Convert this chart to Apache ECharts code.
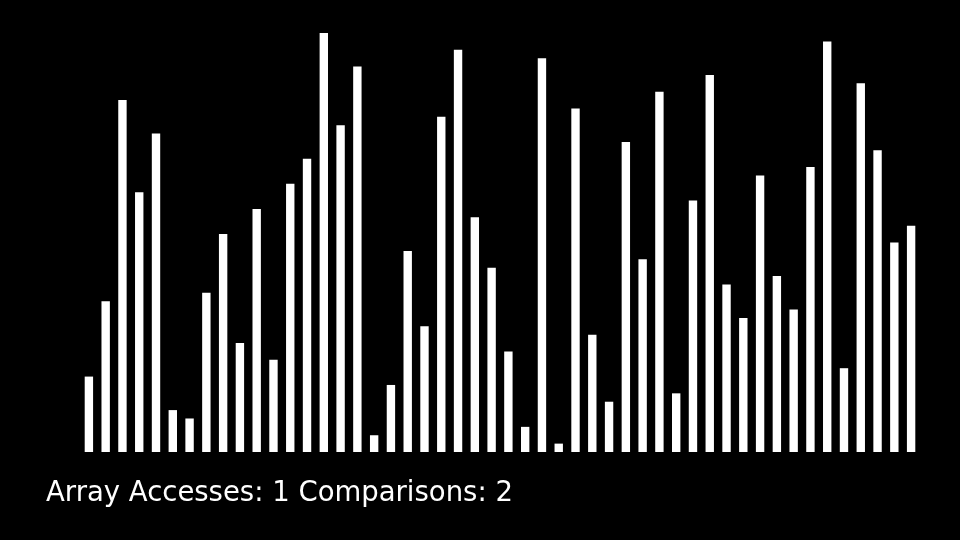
<!DOCTYPE html>
<html>
<head>
<meta charset="utf-8">
<script src="https://cdn.jsdelivr.net/npm/echarts@6/dist/echarts.min.js"></script>
<style>html,body{margin:0;padding:0;background:#000;}#c{width:960px;height:540px;}</style>
</head>
<body>
<div id="c"></div>
<script>
const values = [9,18,42,31,38,5,4,19,26,13,29,11,32,35,50,39,46,2,8,24,15,40,48,28,22,12,3,47,1,41,14,6,37,23,43,7,30,45,20,16,33,21,17,34,49,10,44,36,25,27];
const categories = values.map((_, i) => String(i));
const arrayAccesses = 1;
const comparisons = 2;

const chart = echarts.init(document.getElementById('c'));
chart.setOption({
  backgroundColor: '#000',
  animation: false,
  grid: { left: 80.5, right: 40.5, top: 33, bottom: 88 },
  xAxis: { type: 'category', data: categories, show: false },
  yAxis: { type: 'value', min: 0, max: 50, show: false },
  series: [{
    type: 'bar',
    data: values,
    barWidth: '50%',
    itemStyle: { color: '#fff' }
  }],
  graphic: [{
    type: 'text',
    left: 46,
    top: 480,
    style: {
      text: 'Array Accesses: ' + arrayAccesses + ' Comparisons: ' + comparisons,
      fill: '#fff',
      font: '27.5px "DejaVu Sans"'
    }
  }]
});
</script>
</body>
</html>
